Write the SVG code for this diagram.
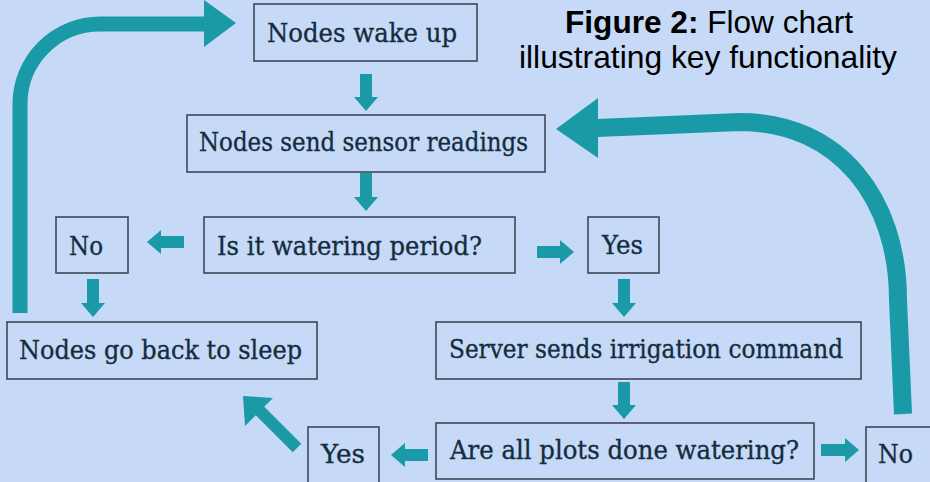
<svg xmlns="http://www.w3.org/2000/svg" width="930" height="482" viewBox="0 0 930 482">
  <defs>
    <marker id="ah" viewBox="0 0 14 24" markerWidth="14" markerHeight="24" refX="0" refY="12" orient="auto" markerUnits="userSpaceOnUse">
      <path d="M0,0 L14,12 L0,24 Z" fill="#1a9aa6"/>
    </marker>
    <style>
      .box { fill: none; stroke: #3d4856; stroke-width: 1.6; }
      .lbl { font-family: "DejaVu Serif", "Liberation Serif", serif; font-size: 26.5px; fill: #132d3e; stroke: #132d3e; stroke-width: 0.35; }
      .conn { stroke: #1a9aa6; stroke-width: 12; fill: none; }
      .big { stroke: #1a9aa6; fill: none; }
      .head { fill: #1a9aa6; }
      .title { font-family: "Liberation Sans", Arial, sans-serif; font-size: 31.5px; fill: #000; }
    </style>
  </defs>
  <rect x="0" y="0" width="930" height="482" fill="#c6d9f6"/>

  <g id="title">
    <text class="title" x="709" y="33" text-anchor="middle" textLength="288" lengthAdjust="spacingAndGlyphs"><tspan font-weight="bold">Figure 2:</tspan> Flow chart</text>
    <text class="title" x="708" y="68" text-anchor="middle" textLength="378" lengthAdjust="spacingAndGlyphs">illustrating key functionality</text>
  </g>

  <g id="connectors">
    <path class="big" stroke-width="15" d="M20,313 L20,104 A80,80 0 0 1 100,24 L205,24"/>
    <polygon class="head" points="204,0 236,23 204,47"/>
    <path class="big" stroke-width="18" d="M903,414 L898,300 C898,200 840,122 740,122 L597,128"/>
    <polygon class="head" points="598,98 556,129 598,158"/>
    <path class="conn" d="M366,74 V97" marker-end="url(#ah)"/>
    <path class="conn" d="M366,173 V197" marker-end="url(#ah)"/>
    <path class="conn" d="M184,242 H161" marker-end="url(#ah)"/>
    <path class="conn" d="M537,252 H560" marker-end="url(#ah)"/>
    <path class="conn" d="M93,279 V303" marker-end="url(#ah)"/>
    <path class="conn" d="M624,279 V303" marker-end="url(#ah)"/>
    <path class="conn" d="M624,382 V405" marker-end="url(#ah)"/>
    <path class="conn" d="M428,455 H405" marker-end="url(#ah)"/>
    <path class="conn" d="M821,450 H845" marker-end="url(#ah)"/>
    <path class="conn" stroke-width="13" d="M297,448 L258,409"/>
    <polygon class="head" points="243,396 273,398 245,426"/>
  </g>

  <g id="wake">
    <rect class="box" x="254" y="4" width="223" height="57"/>
    <text class="lbl" x="267" y="42" textLength="190" lengthAdjust="spacingAndGlyphs">Nodes wake up</text>
  </g>
  <g id="send">
    <rect class="box" x="187" y="115" width="358" height="57"/>
    <text class="lbl" x="199" y="151" textLength="329" lengthAdjust="spacingAndGlyphs">Nodes send sensor readings</text>
  </g>
  <g id="period">
    <rect class="box" x="204" y="217" width="311" height="56"/>
    <text class="lbl" x="217" y="255" textLength="265" lengthAdjust="spacingAndGlyphs">Is it watering period?</text>
  </g>
  <g id="no1">
    <rect class="box" x="56" y="217" width="72" height="56"/>
    <text class="lbl" x="69" y="255" textLength="34" lengthAdjust="spacingAndGlyphs">No</text>
  </g>
  <g id="yes1">
    <rect class="box" x="588" y="217" width="71" height="56"/>
    <text class="lbl" x="602" y="254" textLength="41" lengthAdjust="spacingAndGlyphs">Yes</text>
  </g>
  <g id="sleep">
    <rect class="box" x="7" y="322" width="310" height="57"/>
    <text class="lbl" x="19" y="359" textLength="283" lengthAdjust="spacingAndGlyphs">Nodes go back to sleep</text>
  </g>
  <g id="irrigate">
    <rect class="box" x="436" y="322" width="425" height="57"/>
    <text class="lbl" x="449" y="358" textLength="394" lengthAdjust="spacingAndGlyphs">Server sends irrigation command</text>
  </g>
  <g id="done">
    <rect class="box" x="436" y="423" width="378" height="56"/>
    <text class="lbl" x="450" y="459" textLength="349" lengthAdjust="spacingAndGlyphs">Are all plots done watering?</text>
  </g>
  <g id="yes2">
    <rect class="box" x="308" y="427" width="71" height="62"/>
    <text class="lbl" x="321" y="463" textLength="44" lengthAdjust="spacingAndGlyphs">Yes</text>
  </g>
  <g id="no2">
    <rect class="box" x="866" y="427" width="80" height="62"/>
    <text class="lbl" x="878" y="463" textLength="35" lengthAdjust="spacingAndGlyphs">No</text>
  </g>
</svg>
